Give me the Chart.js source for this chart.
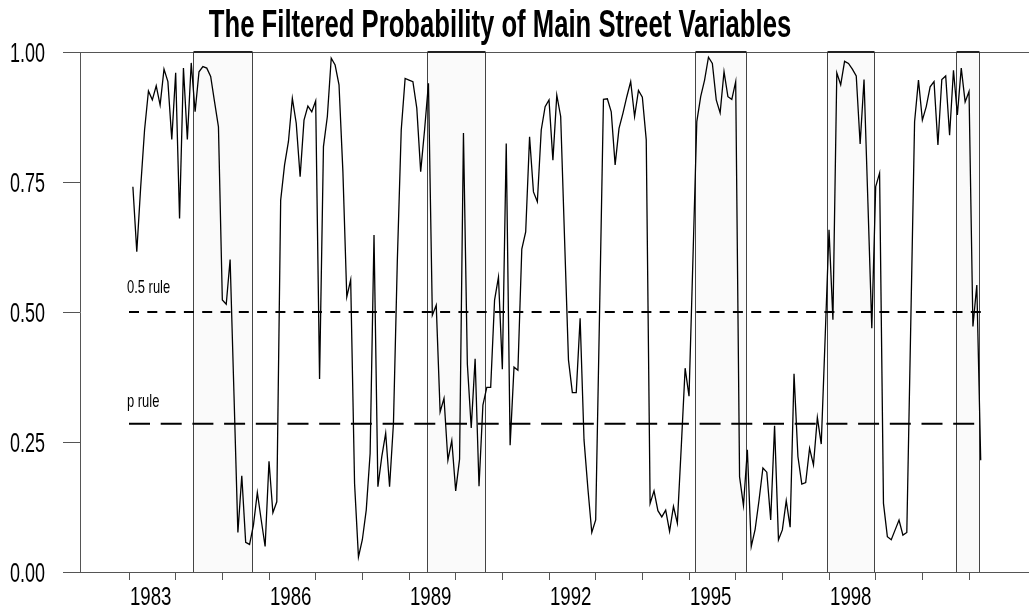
<!DOCTYPE html>
<html lang="en">
<head>
    <meta charset="UTF-8">
    <title>The Filtered Probability of Main Street Variables</title>
    <style>
        body {
            margin: 0;
            padding: 0;
            background: #ffffff;
        }
        canvas {
            display: block;
        }
    </style>
</head>
<body>
    <canvas id="chart" width="1029" height="613"></canvas>

    <script src="https://cdn.jsdelivr.net/npm/chart.js"></script>

    <script>
        // monthly series, first point = Feb 1983
        const startYear = 1983;
        const startMonth = 2;
        const probability = [
            0.741, 0.616, 0.74, 0.85, 0.925, 0.908, 0.935, 0.898, 0.967, 0.943, 0.832,
            0.960, 0.680, 0.969, 0.832, 0.979, 0.885, 0.962, 0.972, 0.969, 0.953, 0.904, 0.856,
            0.523, 0.515, 0.601, 0.34, 0.076, 0.185, 0.057, 0.053, 0.09, 0.153, 0.10, 0.049,
            0.213, 0.114, 0.135, 0.715, 0.783, 0.828, 0.911, 0.863, 0.760, 0.869, 0.896, 0.885,
            0.906, 0.371, 0.818, 0.876, 0.988, 0.975, 0.937, 0.77, 0.529, 0.562, 0.17, 0.029,
            0.062, 0.119, 0.228, 0.648, 0.164, 0.222, 0.267, 0.164, 0.286, 0.60, 0.85, 0.949,
            0.946, 0.943, 0.892, 0.770, 0.85, 0.940, 0.494, 0.513, 0.308, 0.334, 0.215, 0.253,
            0.156, 0.217, 0.844, 0.40, 0.277, 0.410, 0.165, 0.321, 0.355, 0.355, 0.523, 0.567,
            0.39, 0.824, 0.244, 0.394, 0.388, 0.621, 0.654, 0.837, 0.731, 0.712, 0.85, 0.895,
            0.908, 0.792, 0.917, 0.876, 0.64, 0.408, 0.345, 0.345, 0.488, 0.254, 0.16, 0.076,
            0.10, 0.5, 0.909, 0.91, 0.885, 0.783, 0.853, 0.882, 0.914, 0.943, 0.876, 0.926,
            0.913, 0.831, 0.132, 0.156, 0.118, 0.106, 0.119, 0.078, 0.126, 0.094, 0.24, 0.392,
            0.338, 0.6, 0.866, 0.914, 0.946, 0.99, 0.978, 0.908, 0.883, 0.962, 0.914, 0.909,
            0.943, 0.183, 0.128, 0.235, 0.049, 0.082, 0.138, 0.200, 0.192, 0.10, 0.281, 0.062,
            0.081, 0.137, 0.086, 0.381, 0.222, 0.169, 0.172, 0.238, 0.206, 0.297, 0.246, 0.45,
            0.658, 0.485, 0.960, 0.937, 0.982, 0.978, 0.967, 0.954, 0.823, 0.947, 0.71, 0.469,
            0.741, 0.767, 0.132, 0.068, 0.062, 0.081, 0.10, 0.071, 0.076, 0.47, 0.866, 0.946,
            0.869, 0.895, 0.933, 0.943, 0.821, 0.947, 0.954, 0.840, 0.965, 0.879, 0.969, 0.904,
            0.924, 0.472, 0.552, 0.215
        ];

        // shaded periods (decimal years)
        const shadeStart = [1984.37, 1989.38, 1995.13, 1997.96, 2000.72];
        const shadeEnd   = [1985.64, 1990.63, 1996.22, 1998.96, 2001.21];

        // decision rules
        const halfRule = 0.5;
        const pRule = 0.285;
        const ruleFrom = 1983.0;
        const ruleTo = 2001.3;

        // axes
        const yTickValues = [0, 0.25, 0.5, 0.75, 1];
        const xTickYears = [1983, 1984, 1985, 1986, 1987, 1988, 1989, 1990, 1991, 1992,
                            1993, 1994, 1995, 1996, 1997, 1998, 1999, 2000, 2001];
        const xTickLabels = ['1983', '1986', '1989', '1992', '1995', '1998'];

        const titleText = 'The Filtered Probability of Main Street Variables';

        const points = probability.map((v, k) => ({
            x: startYear + (startMonth - 1 + k) / 12,
            y: v
        }));

        // text drawn narrow and tall like the original
        function squeezedText(ctx, text, x, y, font, sx, align) {
            ctx.save();
            ctx.font = font;
            ctx.textAlign = align;
            ctx.textBaseline = 'alphabetic';
            ctx.fillStyle = '#000';
            ctx.translate(x, y);
            ctx.scale(sx, 1);
            ctx.fillText(text, 0, 0);
            ctx.restore();
        }

        const shading = {
            id: 'shading',
            beforeDatasetsDraw(chart) {
                const { ctx, chartArea, scales } = chart;
                ctx.save();
                shadeStart.forEach((s, i) => {
                    const x1 = Math.round(scales.x.getPixelForValue(s)) + 0.5;
                    const x2 = Math.round(scales.x.getPixelForValue(shadeEnd[i])) + 0.5;
                    ctx.fillStyle = '#fafafa';
                    ctx.fillRect(x1, chartArea.top, x2 - x1, chartArea.bottom - chartArea.top);
                    ctx.strokeStyle = '#444';
                    ctx.lineWidth = 1;
                    ctx.beginPath();
                    ctx.moveTo(x1, chartArea.top);
                    ctx.lineTo(x1, chartArea.bottom);
                    ctx.moveTo(x2, chartArea.top);
                    ctx.lineTo(x2, chartArea.bottom);
                    ctx.stroke();
                    ctx.strokeStyle = '#222';
                    ctx.lineWidth = 2;
                    ctx.beginPath();
                    ctx.moveTo(x1, chartArea.top);
                    ctx.lineTo(x2, chartArea.top);
                    ctx.stroke();
                    ctx.strokeStyle = '#555';
                    ctx.lineWidth = 1;
                    ctx.beginPath();
                    ctx.moveTo(x1, chartArea.bottom + 0.5);
                    ctx.lineTo(x2, chartArea.bottom + 0.5);
                    ctx.stroke();
                });
                ctx.restore();
            }
        };

        const labels = {
            id: 'labels',
            afterDraw(chart) {
                const { ctx, scales } = chart;
                const xs = scales.x, ys = scales.y;

                squeezedText(ctx, titleText, (xs.left + 920) / 2 + 0, 37, 'bold 38px "Liberation Sans", Arial, sans-serif', 0.676, 'center');

                yTickValues.forEach(v => {
                    squeezedText(ctx, v.toFixed(2), 45, ys.getPixelForValue(v) + 10,
                        '28px "Liberation Sans", Arial, sans-serif', 0.642, 'right');
                });

                xTickLabels.forEach(t => {
                    squeezedText(ctx, t, xs.getPixelForValue(Number(t)) + 1, 605,
                        '25.5px "Liberation Sans", Arial, sans-serif', 0.73, 'left');
                });

                const lx = xs.getPixelForValue(ruleFrom) - 2;
                squeezedText(ctx, '0.5 rule', lx, ys.getPixelForValue(halfRule) - 19,
                    '18.5px "Liberation Sans", Arial, sans-serif', 0.70, 'left');
                squeezedText(ctx, 'p rule', lx, ys.getPixelForValue(pRule) - 17,
                    '18.5px "Liberation Sans", Arial, sans-serif', 0.70, 'left');
            }
        };

        const ctx = document.getElementById('chart').getContext('2d');
        new Chart(ctx, {
            type: 'line',
            data: {
                datasets: [
                    {
                        label: 'Filtered probability',
                        data: points,
                        borderColor: '#000',
                        borderWidth: 1.3,
                        pointRadius: 0,
                        tension: 0,
                        fill: false
                    },
                    {
                        label: '0.5 rule',
                        data: [{ x: ruleFrom, y: halfRule }, { x: ruleTo, y: halfRule }],
                        borderColor: '#000',
                        borderWidth: 2,
                        borderDash: [10, 8.3],
                        pointRadius: 0,
                        fill: false
                    },
                    {
                        label: 'p rule',
                        data: [{ x: ruleFrom, y: pRule }, { x: ruleTo, y: pRule }],
                        borderColor: '#000',
                        borderWidth: 2,
                        borderDash: [21, 10.7],
                        pointRadius: 0,
                        fill: false
                    }
                ]
            },
            options: {
                responsive: false,
                animation: false,
                layout: { padding: { top: 52, left: 0, right: 0, bottom: 0 } },
                plugins: {
                    legend: { display: false },
                    title: { display: false },
                    tooltip: { enabled: false }
                },
                scales: {
                    x: {
                        type: 'linear',
                        min: 1981.95,
                        max: 2002.285,
                        afterBuildTicks: scale => {
                            scale.ticks = xTickYears.map(v => ({ value: v }));
                        },
                        afterFit: scale => { scale.height = 41; },
                        ticks: { display: false },
                        grid: {
                            drawOnChartArea: false,
                            drawTicks: true,
                            tickLength: 8,
                            color: '#555'
                        },
                        border: { display: true, color: '#555', width: 1 }
                    },
                    y: {
                        min: 0,
                        max: 1,
                        afterBuildTicks: scale => {
                            scale.ticks = yTickValues.map(v => ({ value: v }));
                        },
                        afterFit: scale => { scale.width = 80; },
                        ticks: { display: false },
                        grid: {
                            drawOnChartArea: true,
                            drawTicks: true,
                            tickLength: 17,
                            tickColor: '#555',
                            color: c => (c.tick && (c.tick.value === 0 || c.tick.value === 1)) ? '#555' : 'rgba(0,0,0,0)'
                        },
                        border: { display: true, color: '#555', width: 1 }
                    }
                }
            },
            plugins: [shading, labels]
        });
    </script>
</body>
</html>
